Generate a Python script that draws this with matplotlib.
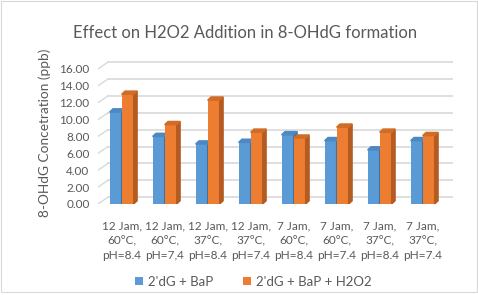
import numpy as np
import matplotlib
matplotlib.use('Agg')
import matplotlib.pyplot as plt
from matplotlib.patches import Polygon, Rectangle

plt.rcParams['font.family'] = ['Lato', 'DejaVu Sans']

# Chart data
categories = ['12 Jam,\n60°C,\npH=8.4', '12 Jam,\n60°C,\npH=7,4', '12 Jam,\n37°C,\npH=8.4',
              '12 Jam,\n37°C,\npH=7.4', '7 Jam,\n60°C,\npH=8.4', '7 Jam,\n60°C,\npH=7.4',
              '7 Jam,\n37°C,\npH=8.4', '7 Jam,\n37°C,\npH=7.4']
bap = [10.9, 8.0, 7.1, 7.3, 8.2, 7.5, 6.4, 7.5]
bap_h2o2 = [13.0, 9.4, 12.3, 8.5, 7.8, 9.1, 8.5, 8.1]
series_names = ["2'dG + BaP", "2'dG + BaP + H2O2"]
yticks = np.arange(0, 17, 2)

front = ['#5B9BD5', '#ED7D31']
side = ['#3F72A3', '#B35B20']
top = ['#4C88C2', '#D06C25']
grey = '#595959'

fig = plt.figure(figsize=(4.78, 2.95), dpi=100)
ax = fig.add_axes([0.205, 0.3085, 0.743, 0.4864])

x = np.arange(len(categories))
w = 0.28
dx, dy = 0.08, 0.38          # bar depth
wx, wy = 0.23, 0.8           # back wall offset
xmin, xmax = -0.55, 7.71

# back wall grid with slanted floor joins
for v in yticks:
    ax.plot([xmin, xmin + wx], [v, v + wy], color='#D9D9D9', linewidth=1.0, zorder=1)
    ax.plot([xmin + wx, xmax], [v + wy, v + wy], color='#D9D9D9', linewidth=1.2, zorder=1)

for k, vals in enumerate([bap, bap_h2o2]):
    pos = x + (k - 0.5) * w
    bars = ax.bar(pos, vals, width=w, color=front[k], zorder=3 + k, label=series_names[k])
    for b in bars:
        x0, x1, h = b.get_x(), b.get_x() + b.get_width(), b.get_height()
        ax.add_patch(Polygon([[x1, 0], [x1 + dx, dy], [x1 + dx, h + dy], [x1, h]],
                             closed=True, color=side[k], zorder=3 + k))
        ax.add_patch(Polygon([[x0, h], [x0 + dx, h + dy], [x1 + dx, h + dy], [x1, h]],
                             closed=True, color=top[k], zorder=3 + k))

ax.set_xlim(xmin, xmax)
ax.set_ylim(0, 17)
ax.set_yticks(yticks)
ax.set_yticklabels([f'{v:.2f}' for v in yticks])
ax.set_xticks(x)
ax.set_xticklabels(categories, linespacing=1.4)
for s in ax.spines.values():
    s.set_visible(False)
ax.tick_params(axis='both', length=0, colors=grey, labelsize=8.5)
ax.tick_params(axis='x', pad=12)
ax.tick_params(axis='y', pad=6)

fig.text(45 / 478, 0.549, '8-OHdG Concetration (ppb)', rotation=90, ha='center', va='center',
         fontsize=9.8, color=grey)
fig.text(0.513, 0.888, 'Effect on H2O2 Addition in 8-OHdG formation', ha='center', va='center',
         fontsize=12, color=grey)

leg = fig.legend(loc='center', bbox_to_anchor=(0.53, 0.045), ncol=2, frameon=False,
                 fontsize=9.5, handlelength=0.6, handleheight=0.6, columnspacing=2.2,
                 handletextpad=0.4)
for t in leg.get_texts():
    t.set_color(grey)

fig.patches.append(Rectangle((0.002, 0.01), 0.996, 0.985, transform=fig.transFigure,
                             fill=False, edgecolor='#D9D9D9', linewidth=0.8))

fig.savefig('out.png', dpi=100)
